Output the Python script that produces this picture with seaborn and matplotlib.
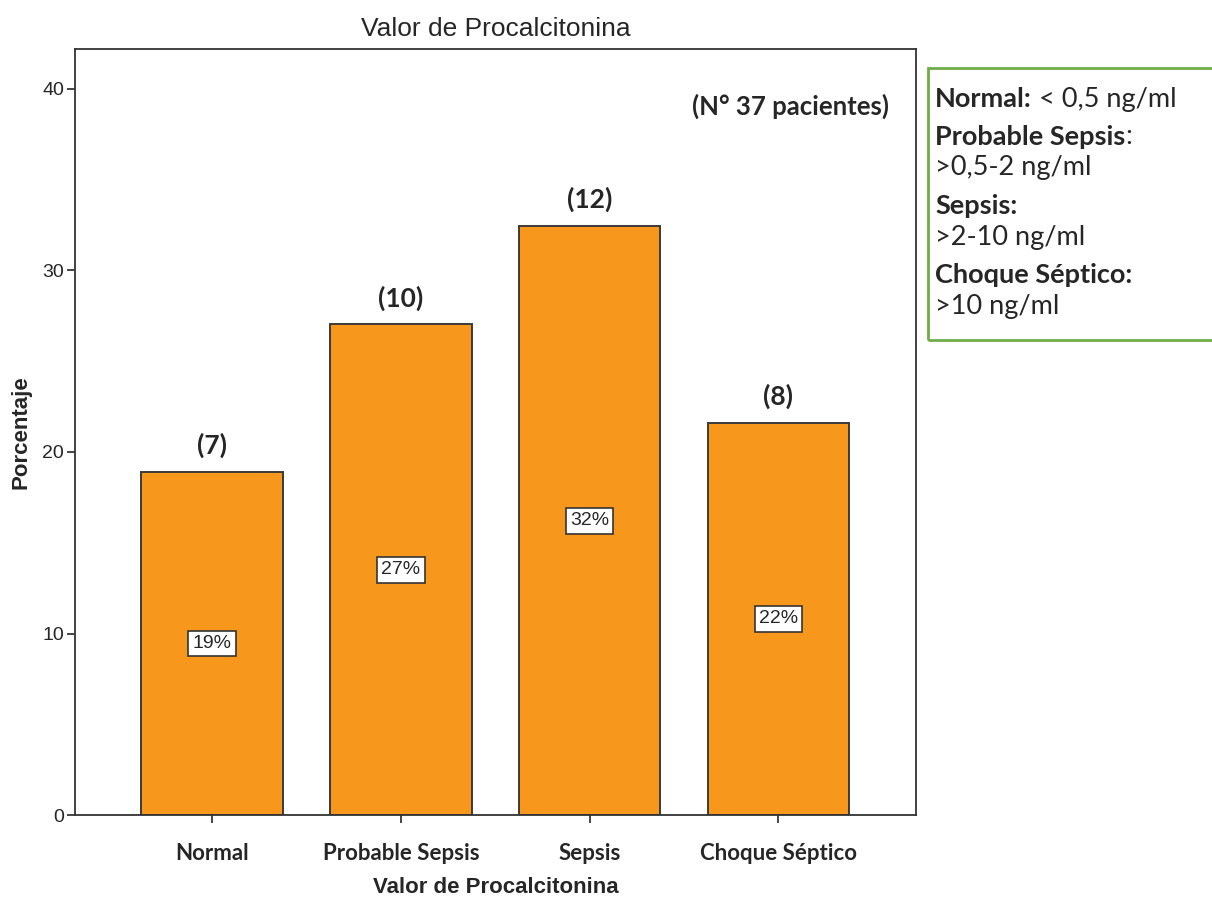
import pandas as pd
import seaborn as sns
from matplotlib import pyplot as plt

categorias = ['Normal', 'Probable Sepsis', 'Sepsis', 'Choque Séptico']
pacientes = [7, 10, 12, 8]
porcentaje = [18.92, 27.03, 32.43, 21.62]
etiquetas_pct = ['19%', '27%', '32%', '22%']

df = pd.DataFrame({'Valor de Procalcitonina': categorias, 'Porcentaje': porcentaje})

sns.set_style('ticks')
plt.rcParams['font.family'] = ['Lato', 'DejaVu Sans']
arial = ['Liberation Sans', 'DejaVu Sans']

fig = plt.figure(figsize=(12.12, 9), dpi=100)
ax = fig.add_axes([0.062, 0.094, 0.694, 0.852])

sns.barplot(data=df, x='Valor de Procalcitonina', y='Porcentaje', color='#F7981D',
            saturation=1, width=0.75, edgecolor='#3a3a3a', linewidth=1.4, ax=ax)

ax.set_xlim(-0.725, 3.73)
ax.set_ylim(0, 42.2)
ax.set_yticks([0, 10, 20, 30, 40])
for s in ax.spines.values():
    s.set_visible(True)
    s.set_color('#333333')
    s.set_linewidth(1.3)
ax.tick_params(axis='y', direction='out', length=6, width=1.2, labelsize=14, pad=2)
ax.tick_params(axis='x', direction='out', length=6, width=1.2, labelsize=16, pad=14)
for lbl in ax.get_yticklabels():
    lbl.set_family(arial)
    lbl.set_stretch('condensed')
for lbl in ax.get_xticklabels():
    lbl.set_fontweight('bold')

ax.set_xlabel('Valor de Procalcitonina', family=arial, fontsize=16, fontweight='bold',
              fontstretch='condensed', labelpad=9)
ax.set_ylabel('Porcentaje', family=arial, fontsize=16, fontweight='bold', labelpad=8)
ax.set_title('Valor de Procalcitonina', family=arial, fontsize=19, fontstretch='condensed', pad=9)

for i, (n, v, t) in enumerate(zip(pacientes, porcentaje, etiquetas_pct)):
    ax.text(i, v + 1.45, f'({n})', ha='center', va='center', fontsize=19, fontweight='bold')
    ax.text(i, v / 2, t, ha='center', va='center', fontsize=14, family=arial, fontstretch='condensed',
            bbox=dict(boxstyle='square,pad=0.22', fc='white', ec='#333333', lw=1.2))

ax.text(0.968, 0.925, '(N° 37 pacientes)', transform=ax.transAxes, ha='right', va='center',
        fontsize=18.5, fontweight='bold')

# legend box at the right
box = plt.Rectangle((928 / 1212, 1 - 340 / 900), 290 / 1212, 272 / 900, transform=fig.transFigure,
                    fill=False, edgecolor='#70AD47', linewidth=2, clip_on=False)
fig.patches.append(box)

lineas = [
    ('Normal:', ' < 0,5 ng/ml'),
    ('Probable Sepsis', ':'),
    ('', '>0,5-2 ng/ml'),
    ('Sepsis:', ''),
    ('', '>2-10 ng/ml'),
    ('Choque Séptico:', ''),
    ('', '>10 ng/ml'),
]
filas_y = [99, 137, 168, 206, 237, 275, 306]
x0 = 935 / 1212
for (negrita, normal), py in zip(lineas, filas_y):
    y = 1 - py / 900
    if negrita:
        t = fig.text(x0, y, negrita, ha='left', va='center', fontsize=19.5, fontweight='bold')
        if normal:
            ax.annotate(normal, xy=(1, 0.5), xycoords=t, ha='left', va='center',
                        fontsize=19.5, annotation_clip=False)
    else:
        fig.text(x0, y, normal, ha='left', va='center', fontsize=19.5)

plt.savefig('out.png', dpi=100)
